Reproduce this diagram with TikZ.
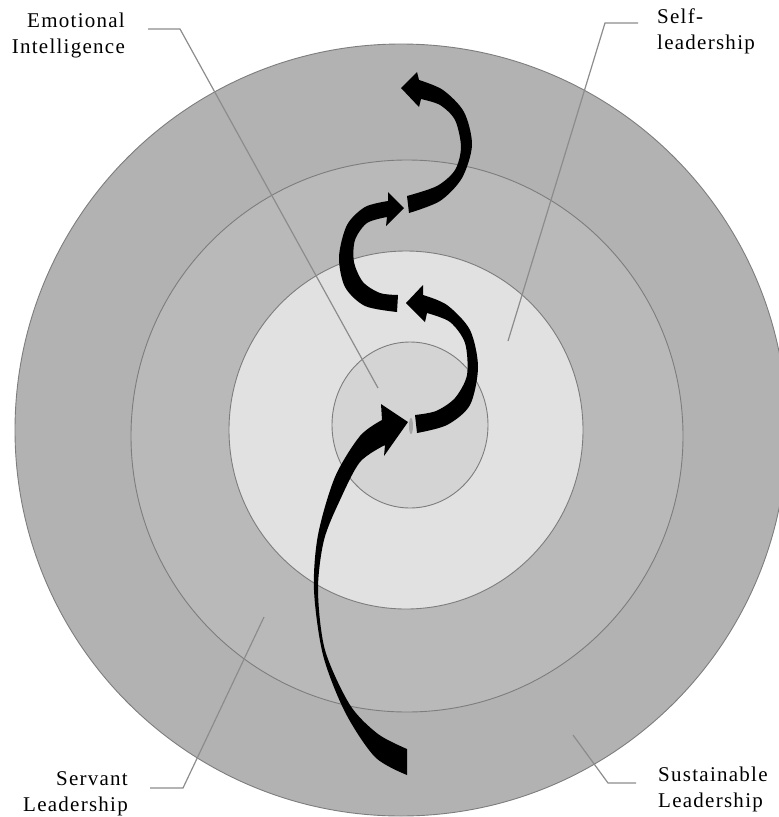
\documentclass[tikz,border=0pt]{standalone}
\usepackage{fontspec}
\setmainfont{Liberation Serif}
\newfontfamily\lblfont[LetterSpace=6]{Liberation Serif}
\definecolor{ringA}{RGB}{178,178,178}
\definecolor{ringB}{RGB}{185,185,185}
\definecolor{ringC}{RGB}{225,225,225}
\definecolor{ringD}{RGB}{212,212,212}
\definecolor{edgegray}{RGB}{125,125,125}
\definecolor{leadgray}{RGB}{140,140,140}
\begin{document}
\begin{tikzpicture}[x=1pt,y=-1pt,
  ring/.style={draw=edgegray,line width=0.9pt},
  leader/.style={draw=leadgray,line width=1.2pt},
  lbl/.style={inner sep=0pt,font=\lblfont\fontsize{21}{26}\selectfont},
  spiral/.style={fill=black}]
\useasboundingbox (0,0) rectangle (779,817);
% rings
\fill[ring,fill=ringA] (401,430) circle[radius=386];
\fill[ring,fill=ringB] (407,436) circle[radius=276];
\fill[ring,fill=ringC] (406,430) ellipse[x radius=177,y radius=179];
\fill[ring,fill=ringD] (410,425) ellipse[x radius=78,y radius=83];
% labels
\node[lbl,anchor=base east] (ei) at (125,27) {\begin{tabular}[t]{@{}r@{}}Emotional\\Intelligence\end{tabular}};
\node[lbl,anchor=base west] (sl) at (657,23) {\begin{tabular}[t]{@{}l@{}}Self-\\leadership\end{tabular}};
\node[lbl,anchor=base east] (sv) at (128,785) {\begin{tabular}[t]{@{}r@{}}Servant\\Leadership\end{tabular}};
\node[lbl,anchor=base west] (su) at (658,781) {\begin{tabular}[t]{@{}l@{}}Sustainable\\Leadership\end{tabular}};
% leader coordinates
\coordinate (eiA) at (148,29); \coordinate (eiB) at (180,29); \coordinate (eiC) at (378,388);
\coordinate (slA) at (638,23); \coordinate (slB) at (605,23); \coordinate (slC) at (508,341);
\coordinate (svA) at (150,788); \coordinate (svB) at (183,788); \coordinate (svC) at (264,617);
\coordinate (suA) at (636,783); \coordinate (suB) at (608,783); \coordinate (suC) at (573,735);
\draw[leader] (eiA) -- (eiB) -- (eiC);
\draw[leader] (slA) -- (slB) -- (slC);
\draw[leader] (svA) -- (svB) -- (svC);
\draw[leader] (suA) -- (suB) -- (suC);
% arrow 1 (large, from bottom)
\fill[spiral] (407,749) -- (407,775) -- plot[smooth] coordinates {(407,775) (375,757) (345,712) (323,655) (314,590) (318,535) (335,477) (360,436) (382,420)}
  -- (381,404) -- (408,422) -- (384,456) -- (385,445)
  -- plot[smooth] coordinates {(385,445) (360,462) (340,500) (324,540) (318,590) (325,650) (350,705) (378,734) (407,749)} -- cycle;
% small gap mark
\fill[gray!70] (411,426) ellipse[x radius=2,y radius=8];
% arrow 2
\fill[spiral] (415,415) -- (417,433) -- plot[smooth] coordinates {(417,433) (447,425) (470,405) (478,367) (470,330) (447,305) (423,295)}
  -- (423,285) -- (406,303) -- (425,322) -- (427,313)
  -- plot[smooth] coordinates {(427,313) (450,322) (465,343) (467,375) (455,398) (436,411) (415,415)} -- cycle;
% arrow 3
\fill[spiral] (398,295) -- (397,312) -- plot[smooth] coordinates {(397,312) (365,306) (345,287) (339,257) (347,225) (365,207) (388,201)}
  -- (388,192) -- (404,208) -- (386,226) -- (387,217)
  -- plot[smooth] coordinates {(387,217) (367,223) (355,240) (354,262) (363,282) (380,293) (398,295)} -- cycle;
% arrow 4
\fill[spiral] (407,196) -- (409,213) -- plot[smooth] coordinates {(409,213) (440,201) (462,178) (472,145) (464,112) (443,90) (419,80)}
  -- (417,72) -- (401,88) -- (419,107) -- (421,99)
  -- plot[smooth] coordinates {(421,99) (440,105) (455,120) (461,147) (455,170) (437,186) (407,196)} -- cycle;
\end{tikzpicture}
\end{document}
